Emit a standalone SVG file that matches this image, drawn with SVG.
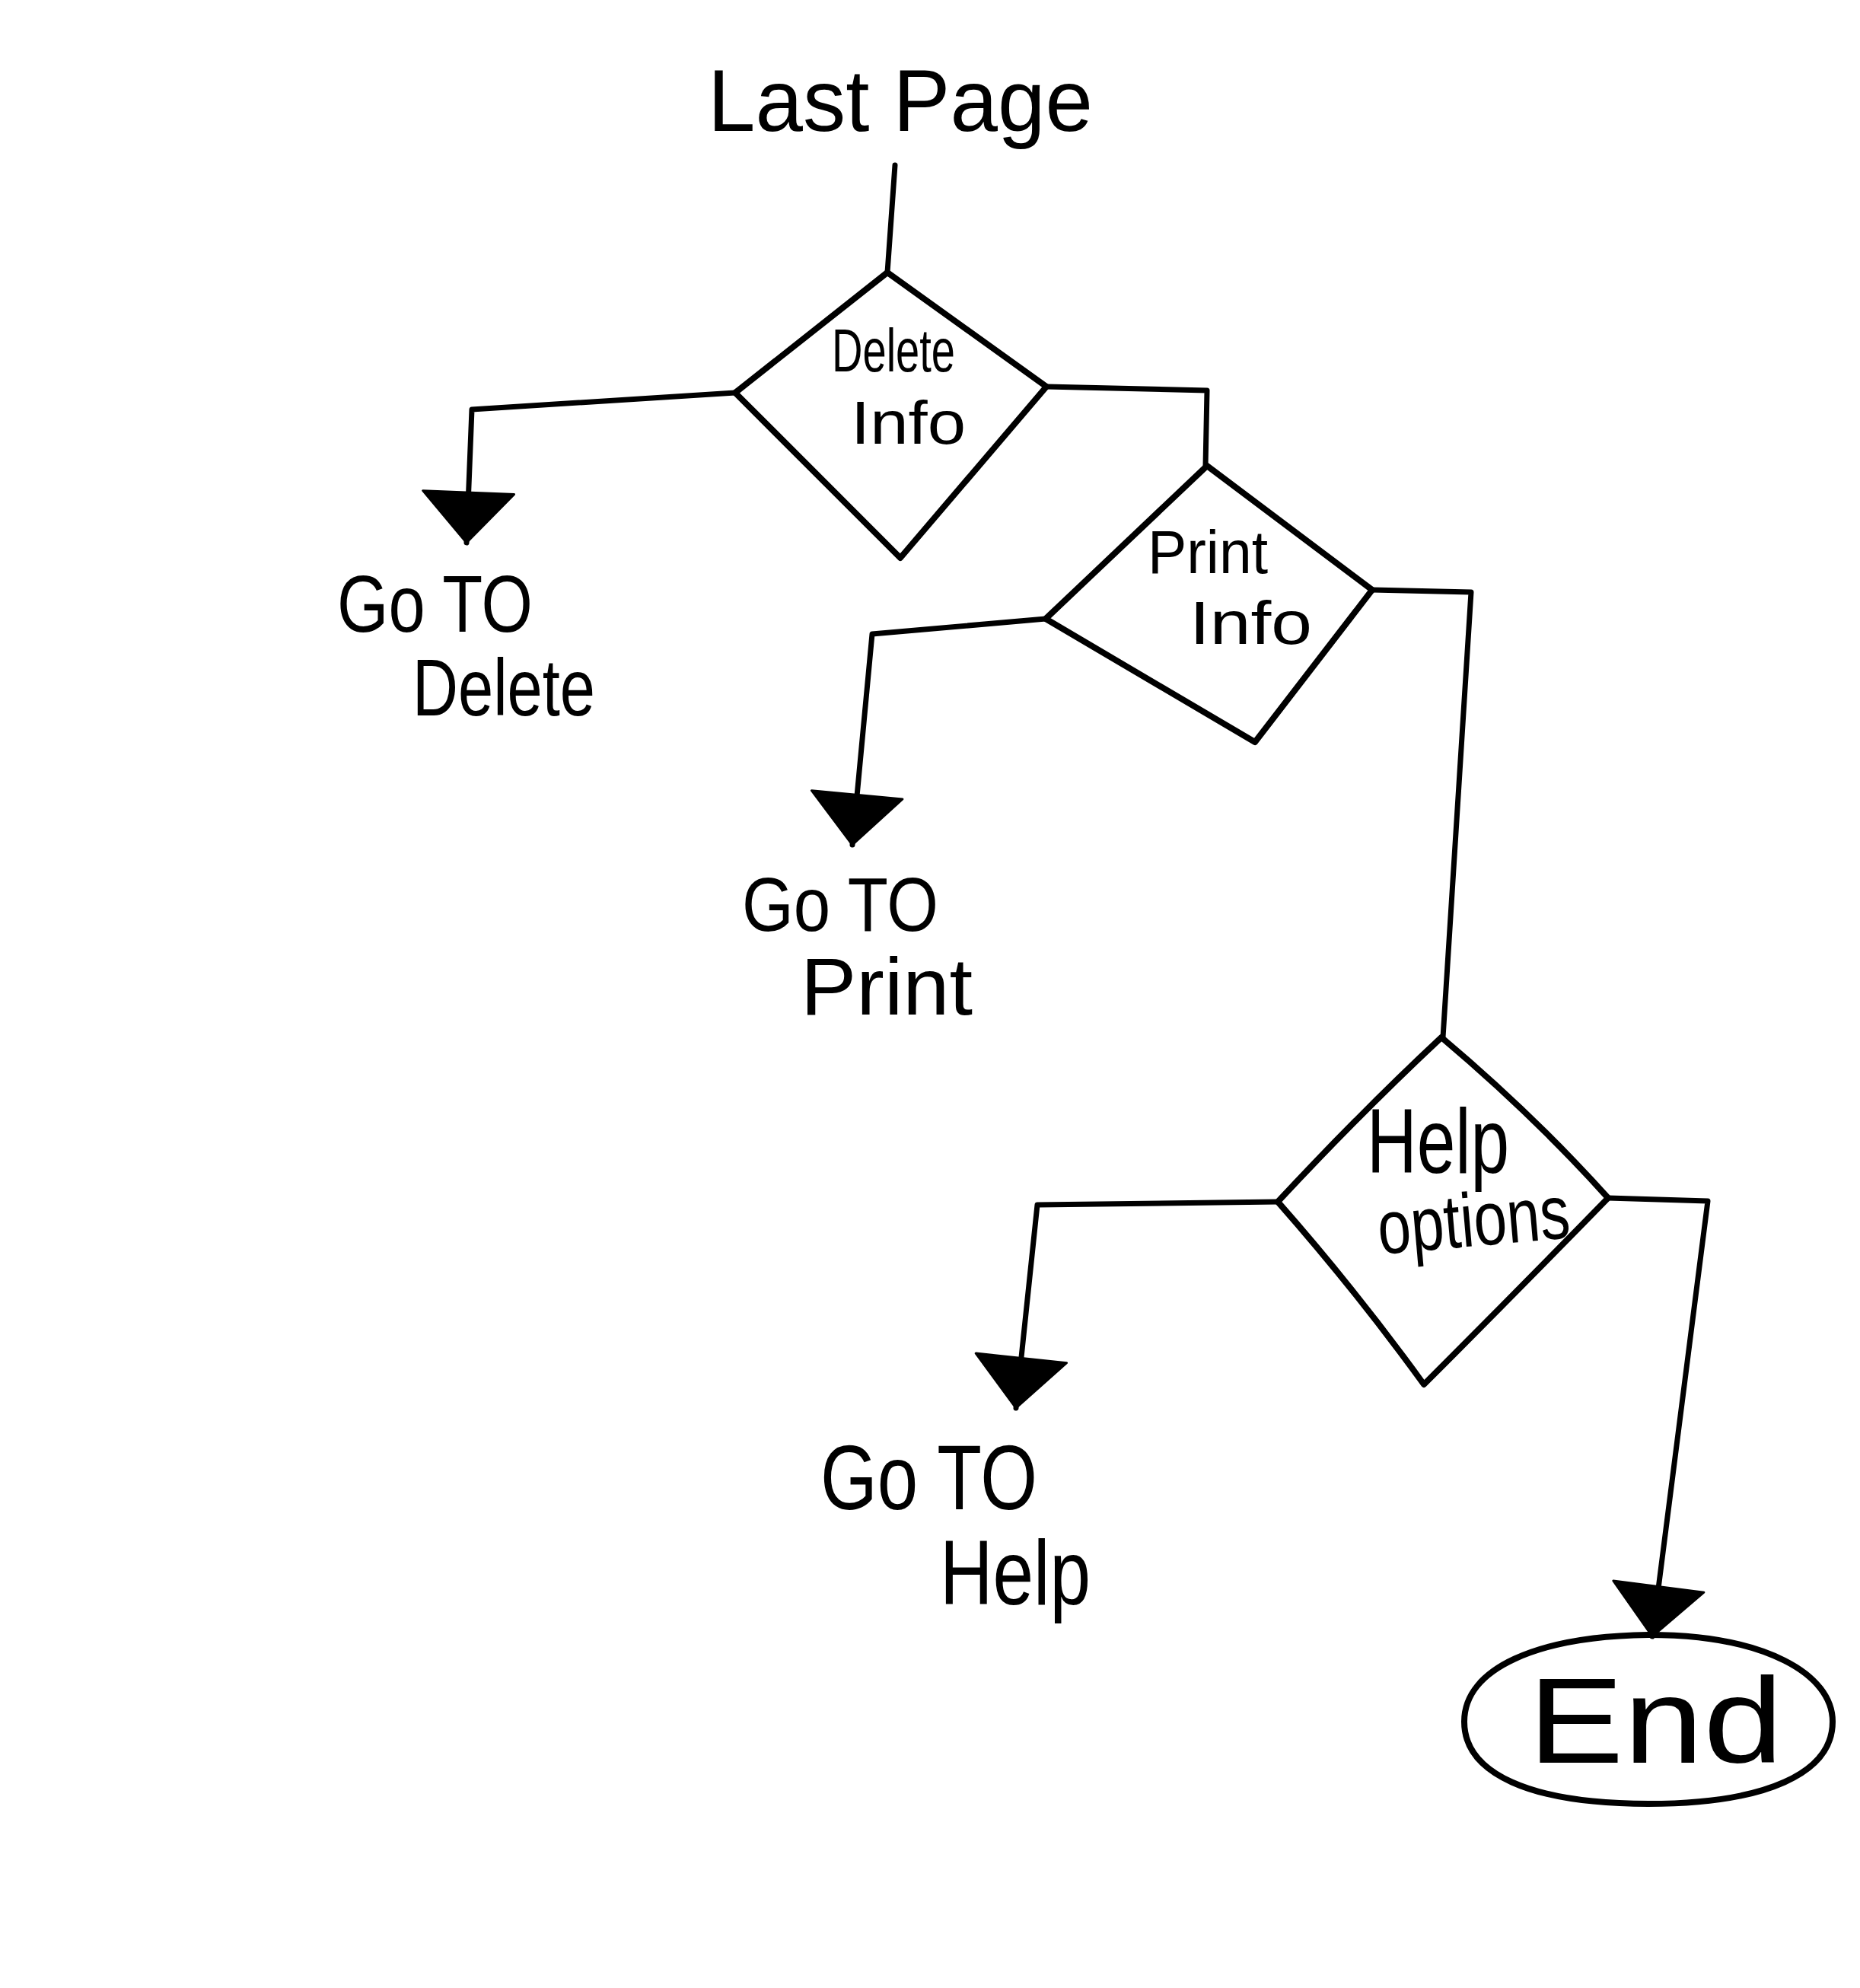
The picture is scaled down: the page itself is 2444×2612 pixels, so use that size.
<svg xmlns="http://www.w3.org/2000/svg" width="2444" height="2612" viewBox="0 0 2444 2612">
<style>
  .bg { fill: #ffffff; }
  .shape { fill: none; stroke: #000; stroke-width: 8; stroke-linejoin: round; stroke-linecap: round; }
  .conn { fill: none; stroke: #000; stroke-width: 7; stroke-linejoin: round; stroke-linecap: round; }
  .lbl { font-family: "Liberation Sans", "DejaVu Sans", sans-serif; fill: #000; }
</style>
<defs>
  <marker id="arrow" markerUnits="userSpaceOnUse" markerWidth="80" markerHeight="130" viewBox="0 -65 70 130" refX="66" refY="0" orient="auto">
    <path d="M0,-60 L66,0 L0,60 Z" fill="#000" stroke="#000" stroke-width="3" stroke-linejoin="round"/>
  </marker>
</defs>
<rect class="bg" x="0" y="0" width="2444" height="2612"/>

<g id="connectors">
  <path class="conn" d="M1176,217 L1166,358"/>
  <path class="conn" d="M966,516 L620,538 L613,713" marker-end="url(#arrow)"/>
  <path class="conn" d="M1375,508 L1586,513 L1584,612"/>
  <path class="conn" d="M1374,813 L1146,833 L1120,1110" marker-end="url(#arrow)"/>
  <path class="conn" d="M1803,775 L1933,778 L1896,1363"/>
  <path class="conn" d="M1679,1579 L1363,1583 L1335,1850" marker-end="url(#arrow)"/>
  <path class="conn" d="M2113,1574 L2244,1578 L2171,2150" marker-end="url(#arrow)"/>
</g>

<g id="node-last-page">
  <text class="lbl" x="930" y="172" font-size="115" textLength="506" lengthAdjust="spacingAndGlyphs">Last Page</text>
</g>

<g id="node-delete-info">
  <polygon class="shape" points="1166,358 1375,508 1183,733 966,516"/>
  <text class="lbl" x="1093" y="488" font-size="80" textLength="162" lengthAdjust="spacingAndGlyphs">Delete</text>
  <text class="lbl" x="1118" y="583" font-size="80" textLength="151" lengthAdjust="spacingAndGlyphs">Info</text>
</g>

<g id="node-goto-delete">
  <text class="lbl" x="443" y="830" font-size="105" textLength="257" lengthAdjust="spacingAndGlyphs">Go TO</text>
  <text class="lbl" x="542" y="940" font-size="105" textLength="240" lengthAdjust="spacingAndGlyphs">Delete</text>
</g>

<g id="node-print-info">
  <polygon class="shape" points="1586,612 1803,775 1649,975 1374,813"/>
  <text class="lbl" x="1508" y="753" font-size="80" textLength="158" lengthAdjust="spacingAndGlyphs">Print</text>
  <text class="lbl" x="1563" y="846" font-size="80" textLength="161" lengthAdjust="spacingAndGlyphs">Info</text>
</g>

<g id="node-goto-print">
  <text class="lbl" x="975" y="1223" font-size="100" textLength="258" lengthAdjust="spacingAndGlyphs">Go TO</text>
  <text class="lbl" x="1052" y="1333" font-size="105" textLength="226" lengthAdjust="spacingAndGlyphs">Print</text>
</g>

<g id="node-help-options">
  <path class="shape" d="M1894,1363 Q2015,1465 2113,1574 Q1990,1700 1871,1819 Q1782,1696 1679,1579 Q1788,1462 1894,1363 Z"/>
  <text class="lbl" x="1796" y="1541" font-size="120" textLength="187" lengthAdjust="spacingAndGlyphs">Help</text>
  <text class="lbl" x="1813" y="1648" font-size="100" textLength="253" lengthAdjust="spacingAndGlyphs" transform="rotate(-5 1813 1648)">options</text>
</g>

<g id="node-goto-help">
  <text class="lbl" x="1078" y="1983" font-size="120" textLength="285" lengthAdjust="spacingAndGlyphs">Go TO</text>
  <text class="lbl" x="1235" y="2108" font-size="120" textLength="198" lengthAdjust="spacingAndGlyphs">Help</text>
</g>

<g id="node-end">
  <path class="shape" d="M1924,2262 C1924,2192 2020,2150 2166,2148 C2320,2148 2408,2200 2408,2262 C2408,2330 2320,2370 2166,2370 C2010,2370 1924,2330 1924,2262 Z"/>
  <text class="lbl" x="2008" y="2316" font-size="160" textLength="335" lengthAdjust="spacingAndGlyphs">End</text>
</g>
</svg>
